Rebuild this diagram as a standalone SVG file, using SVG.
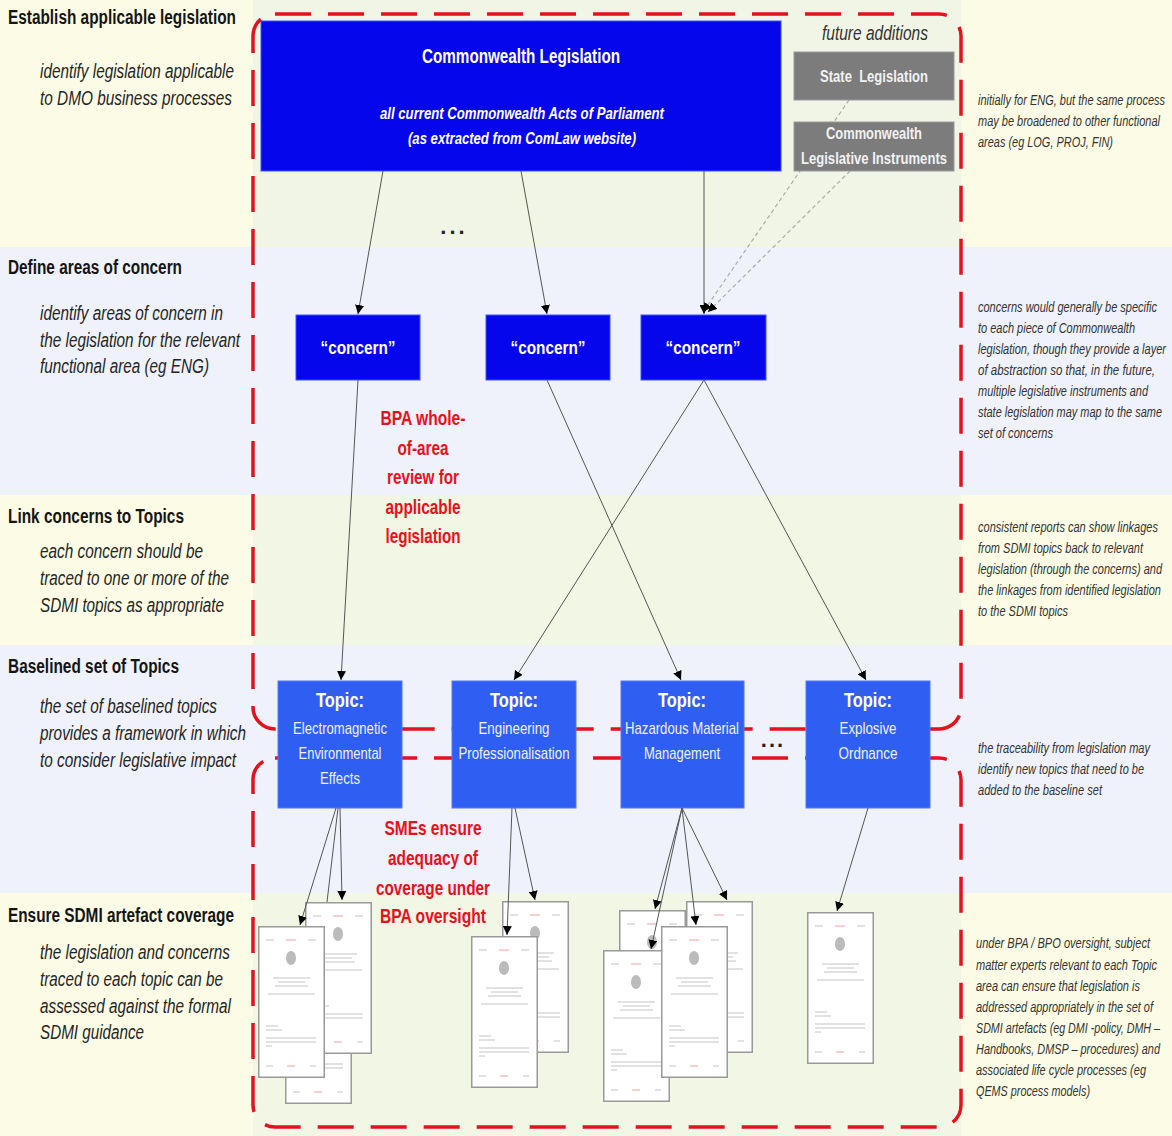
<svg xmlns="http://www.w3.org/2000/svg" xmlns:xlink="http://www.w3.org/1999/xlink" width="1172" height="1136" viewBox="0 0 1172 1136">
<style>
text{font-family:"Liberation Sans Narrow","Liberation Sans",Arial,sans-serif}
.h{font-weight:bold;font-size:20px;fill:#151515}
.li{font-style:italic;font-size:19.5px;fill:#252525}
.ri{font-style:italic;font-size:14px;fill:#333}
.wt{fill:#fff;text-anchor:middle}
.st{fill:#eef1ff;text-anchor:middle}
.red{fill:#e8101a;font-weight:bold;font-size:21px;text-anchor:middle}
.blue{fill:#0606ec;stroke:#3a55ff;stroke-width:1}
.topic{fill:#2f5ff2;stroke:#5577ff;stroke-width:1}
.gray{fill:#7c7c7c;stroke:#9a9a9a;stroke-width:1}
.bound{fill:none;stroke:#e3121c;stroke-width:3.5;stroke-dasharray:36 17}
.con{stroke:#555;stroke-width:1;fill:none}
.dash{stroke:#aaa;stroke-width:1.2;stroke-dasharray:4 3;fill:none}
.doc{fill:#fff;stroke:#999;stroke-width:1.5}
.dl{stroke:#c4c4c4;stroke-width:1}
</style>
<defs>
<marker id="ah" viewBox="0 0 10 10" refX="10" refY="5" markerWidth="9" markerHeight="9" markerUnits="userSpaceOnUse" orient="auto">
<path d="M0,0 L10,5 L0,10 z" fill="#000"/>
</marker>
<symbol id="docsym" viewBox="0 0 67 152" width="67" height="152">
<rect class="doc" x="0.75" y="0.75" width="65.5" height="150.5"/>
<g class="dl">
<line x1="8" y1="14" x2="16" y2="14"/><line x1="28" y1="14" x2="38" y2="14" stroke="#f0a0a0"/><line x1="50" y1="14" x2="58" y2="14"/>
<line x1="15" y1="52" x2="52" y2="52"/><line x1="20" y1="56" x2="47" y2="56"/><line x1="17" y1="60" x2="50" y2="60"/>
<line x1="10" y1="68" x2="57" y2="68"/>
<line x1="8" y1="100" x2="20" y2="100"/><line x1="8" y1="104" x2="24" y2="104"/>
<line x1="8" y1="112" x2="58" y2="112"/><line x1="8" y1="116" x2="58" y2="116"/><line x1="8" y1="120" x2="14" y2="120"/>
<line x1="8" y1="140" x2="15" y2="140"/><line x1="29" y1="140" x2="37" y2="140" stroke="#f0a0a0"/><line x1="52" y1="140" x2="58" y2="140"/>
</g>
<ellipse cx="33" cy="32" rx="5" ry="7" fill="#bbb"/>
</symbol>
</defs>

<g id="background">
<rect x="0" y="0" width="1172" height="247" fill="#fcfce6"/>
<rect x="0" y="247" width="1172" height="248" fill="#eff2fb"/>
<rect x="0" y="495" width="1172" height="150" fill="#fcfce6"/>
<rect x="0" y="645" width="1172" height="248" fill="#eff2fb"/>
<rect x="0" y="893" width="1172" height="243" fill="#fcfce6"/>
<rect x="253" y="0" width="708" height="247" fill="#f1f5e6"/>
<rect x="253" y="495" width="708" height="150" fill="#f2f6e4"/>
<rect x="253" y="893" width="708" height="243" fill="#f2f6e4"/>
</g>

<g id="boundaries">
<rect class="bound" x="253" y="14" width="708" height="715" rx="22"/>
<rect class="bound" x="253" y="758" width="708" height="369" rx="22"/>
</g>

<g id="left-labels">
<text class="h" x="8" y="24" textLength="228" lengthAdjust="spacingAndGlyphs">Establish applicable legislation</text>
<text class="li" x="40" y="78" textLength="194" lengthAdjust="spacingAndGlyphs">identify legislation applicable</text>
<text class="li" x="40" y="105" textLength="192" lengthAdjust="spacingAndGlyphs">to DMO business processes</text>
<text class="h" x="8" y="274" textLength="174" lengthAdjust="spacingAndGlyphs">Define areas of concern</text>
<text class="li" x="40" y="320" textLength="183" lengthAdjust="spacingAndGlyphs">identify areas of concern in</text>
<text class="li" x="40" y="347" textLength="200" lengthAdjust="spacingAndGlyphs">the legislation for the relevant</text>
<text class="li" x="40" y="373" textLength="169" lengthAdjust="spacingAndGlyphs">functional area (eg ENG)</text>
<text class="h" x="8" y="523" textLength="176" lengthAdjust="spacingAndGlyphs">Link concerns to Topics</text>
<text class="li" x="40" y="558" textLength="163" lengthAdjust="spacingAndGlyphs">each concern should be</text>
<text class="li" x="40" y="585" textLength="189" lengthAdjust="spacingAndGlyphs">traced to one or more of the</text>
<text class="li" x="40" y="612" textLength="184" lengthAdjust="spacingAndGlyphs">SDMI topics as appropriate</text>
<text class="h" x="8" y="673" textLength="171" lengthAdjust="spacingAndGlyphs">Baselined set of Topics</text>
<text class="li" x="40" y="713" textLength="177" lengthAdjust="spacingAndGlyphs">the set of baselined topics</text>
<text class="li" x="40" y="740" textLength="206" lengthAdjust="spacingAndGlyphs">provides a framework in which</text>
<text class="li" x="40" y="767" textLength="196" lengthAdjust="spacingAndGlyphs">to consider legislative impact</text>
<text class="h" x="8" y="922" textLength="226" lengthAdjust="spacingAndGlyphs">Ensure SDMI artefact coverage</text>
<text class="li" x="40" y="959" textLength="190" lengthAdjust="spacingAndGlyphs">the legislation and concerns</text>
<text class="li" x="40" y="986" textLength="183" lengthAdjust="spacingAndGlyphs">traced to each topic can be</text>
<text class="li" x="40" y="1013" textLength="191" lengthAdjust="spacingAndGlyphs">assessed against the formal</text>
<text class="li" x="40" y="1039" textLength="104" lengthAdjust="spacingAndGlyphs">SDMI guidance</text>
</g>

<g id="right-notes">
<text class="ri" x="978" y="105" textLength="187" lengthAdjust="spacingAndGlyphs">initially for ENG, but the same process</text>
<text class="ri" x="978" y="126" textLength="182" lengthAdjust="spacingAndGlyphs">may be broadened to other functional</text>
<text class="ri" x="978" y="147" textLength="135" lengthAdjust="spacingAndGlyphs">areas (eg LOG, PROJ, FIN)</text>
<text class="ri" x="978" y="312" textLength="179" lengthAdjust="spacingAndGlyphs">concerns would generally be specific</text>
<text class="ri" x="978" y="333" textLength="157" lengthAdjust="spacingAndGlyphs">to each piece of Commonwealth</text>
<text class="ri" x="978" y="354" textLength="188" lengthAdjust="spacingAndGlyphs">legislation, though they provide a layer</text>
<text class="ri" x="978" y="375" textLength="177" lengthAdjust="spacingAndGlyphs">of abstraction so that, in the future,</text>
<text class="ri" x="978" y="396" textLength="170" lengthAdjust="spacingAndGlyphs">multiple legislative instruments and</text>
<text class="ri" x="978" y="417" textLength="184" lengthAdjust="spacingAndGlyphs">state legislation may map to the same</text>
<text class="ri" x="978" y="438" textLength="75" lengthAdjust="spacingAndGlyphs">set of concerns</text>
<text class="ri" x="978" y="532" textLength="180" lengthAdjust="spacingAndGlyphs">consistent reports can show linkages</text>
<text class="ri" x="978" y="553" textLength="165" lengthAdjust="spacingAndGlyphs">from SDMI topics back to relevant</text>
<text class="ri" x="978" y="574" textLength="184" lengthAdjust="spacingAndGlyphs">legislation (through the concerns) and</text>
<text class="ri" x="978" y="595" textLength="183" lengthAdjust="spacingAndGlyphs">the linkages from identified legislation</text>
<text class="ri" x="978" y="616" textLength="90" lengthAdjust="spacingAndGlyphs">to the SDMI topics</text>
<text class="ri" x="978" y="753" textLength="172" lengthAdjust="spacingAndGlyphs">the traceability from legislation may</text>
<text class="ri" x="978" y="774" textLength="166" lengthAdjust="spacingAndGlyphs">identify new topics that need to be</text>
<text class="ri" x="978" y="795" textLength="124" lengthAdjust="spacingAndGlyphs">added to the baseline set</text>
<text class="ri" x="976" y="948" textLength="174" lengthAdjust="spacingAndGlyphs">under BPA / BPO oversight, subject</text>
<text class="ri" x="976" y="970" textLength="181" lengthAdjust="spacingAndGlyphs">matter experts relevant to each Topic</text>
<text class="ri" x="976" y="991" textLength="164" lengthAdjust="spacingAndGlyphs">area can ensure that legislation is</text>
<text class="ri" x="976" y="1012" textLength="177" lengthAdjust="spacingAndGlyphs">addressed appropriately in the set of</text>
<text class="ri" x="976" y="1033" textLength="184" lengthAdjust="spacingAndGlyphs">SDMI artefacts (eg DMI -policy, DMH –</text>
<text class="ri" x="976" y="1054" textLength="184" lengthAdjust="spacingAndGlyphs">Handbooks, DMSP – procedures) and</text>
<text class="ri" x="976" y="1075" textLength="170" lengthAdjust="spacingAndGlyphs">associated life cycle processes (eg</text>
<text class="ri" x="976" y="1096" textLength="114" lengthAdjust="spacingAndGlyphs">QEMS process models)</text>
</g>

<g id="connectors">
<line class="con" x1="383" y1="171" x2="358" y2="314" marker-end="url(#ah)"/>
<line class="con" x1="521" y1="171" x2="547" y2="314" marker-end="url(#ah)"/>
<line class="con" x1="704" y1="171" x2="704" y2="314" marker-end="url(#ah)"/>
<line class="dash" x1="849" y1="100" x2="703" y2="312" marker-end="url(#ah)"/>
<line class="dash" x1="850" y1="171" x2="708" y2="312" marker-end="url(#ah)"/>
<line class="con" x1="358" y1="380" x2="341" y2="680" marker-end="url(#ah)"/>
<line class="con" x1="547" y1="380" x2="681" y2="680" marker-end="url(#ah)"/>
<line class="con" x1="704" y1="380" x2="514" y2="680" marker-end="url(#ah)"/>
<line class="con" x1="704" y1="380" x2="866" y2="680" marker-end="url(#ah)"/>
</g>

<g id="node-commonwealth">
<rect class="blue" x="261" y="21" width="520" height="150"/>
<text class="wt" x="521" y="63" font-size="21" font-weight="bold" textLength="198" lengthAdjust="spacingAndGlyphs">Commonwealth Legislation</text>
<text class="wt" x="522" y="119" font-size="17" font-weight="bold" font-style="italic" textLength="284" lengthAdjust="spacingAndGlyphs">all current Commonwealth Acts of Parliament</text>
<text class="wt" x="522" y="144" font-size="17" font-weight="bold" font-style="italic" textLength="228" lengthAdjust="spacingAndGlyphs">(as extracted from ComLaw website)</text>
</g>

<g id="label-future">
<text x="875" y="40" font-size="20" font-style="italic" fill="#333" text-anchor="middle" textLength="106" lengthAdjust="spacingAndGlyphs">future additions</text>
</g>
<g id="node-state">
<rect class="gray" x="794" y="52" width="160" height="48"/>
<text x="874" y="82" font-size="17" font-weight="bold" fill="#f2f2f2" text-anchor="middle" textLength="108" lengthAdjust="spacingAndGlyphs" xml:space="preserve">State  Legislation</text>
</g>
<g id="node-cli">
<rect class="gray" x="794" y="122" width="160" height="49"/>
<text x="874" y="139" font-size="17" font-weight="bold" fill="#f2f2f2" text-anchor="middle" textLength="96" lengthAdjust="spacingAndGlyphs">Commonwealth</text>
<text x="874" y="164" font-size="17" font-weight="bold" fill="#f2f2f2" text-anchor="middle" textLength="146" lengthAdjust="spacingAndGlyphs">Legislative Instruments</text>
</g>

<g id="ellipsis-1"><text x="454" y="234" font-size="22" font-weight="bold" fill="#222" text-anchor="middle" letter-spacing="3">...</text></g>

<g id="node-concern-1">
<rect class="blue" x="296" y="315" width="124" height="65"/>
<text class="wt" x="358" y="354" font-size="19" font-weight="bold" textLength="75" lengthAdjust="spacingAndGlyphs">“concern”</text>
</g>
<g id="node-concern-2">
<rect class="blue" x="486" y="315" width="124" height="65"/>
<text class="wt" x="548" y="354" font-size="19" font-weight="bold" textLength="75" lengthAdjust="spacingAndGlyphs">“concern”</text>
</g>
<g id="node-concern-3">
<rect class="blue" x="641" y="315" width="125" height="65"/>
<text class="wt" x="703" y="354" font-size="19" font-weight="bold" textLength="75" lengthAdjust="spacingAndGlyphs">“concern”</text>
</g>

<g id="label-bpa-review">
<text class="red" x="423" y="425" textLength="85" lengthAdjust="spacingAndGlyphs">BPA whole-</text>
<text class="red" x="423" y="455" textLength="51" lengthAdjust="spacingAndGlyphs">of-area</text>
<text class="red" x="423" y="484" textLength="72" lengthAdjust="spacingAndGlyphs">review for</text>
<text class="red" x="423" y="514" textLength="75" lengthAdjust="spacingAndGlyphs">applicable</text>
<text class="red" x="423" y="543" textLength="75" lengthAdjust="spacingAndGlyphs">legislation</text>
</g>

<g id="node-topic-em">
<rect class="topic" x="278" y="681" width="124" height="127"/>
<text class="wt" x="340" y="707" font-size="20" font-weight="bold" textLength="48" lengthAdjust="spacingAndGlyphs">Topic:</text>
<text class="st" x="340" y="734" font-size="17" textLength="94" lengthAdjust="spacingAndGlyphs">Electromagnetic</text>
<text class="st" x="340" y="759" font-size="17" textLength="83" lengthAdjust="spacingAndGlyphs">Environmental</text>
<text class="st" x="340" y="784" font-size="17" textLength="40" lengthAdjust="spacingAndGlyphs">Effects</text>
</g>
<g id="node-topic-eng">
<rect class="topic" x="452" y="681" width="124" height="127"/>
<text class="wt" x="514" y="707" font-size="20" font-weight="bold" textLength="48" lengthAdjust="spacingAndGlyphs">Topic:</text>
<text class="st" x="514" y="734" font-size="17" textLength="71" lengthAdjust="spacingAndGlyphs">Engineering</text>
<text class="st" x="514" y="759" font-size="17" textLength="111" lengthAdjust="spacingAndGlyphs">Professionalisation</text>
</g>
<g id="node-topic-haz">
<rect class="topic" x="621" y="681" width="123" height="127"/>
<text class="wt" x="682" y="707" font-size="20" font-weight="bold" textLength="48" lengthAdjust="spacingAndGlyphs">Topic:</text>
<text class="st" x="682" y="734" font-size="17" textLength="114" lengthAdjust="spacingAndGlyphs">Hazardous Material</text>
<text class="st" x="682" y="759" font-size="17" textLength="76" lengthAdjust="spacingAndGlyphs">Management</text>
</g>
<g id="ellipsis-2"><text x="773" y="747" font-size="22" font-weight="bold" fill="#222" text-anchor="middle" letter-spacing="2">...</text></g>
<g id="node-topic-exp">
<rect class="topic" x="806" y="681" width="124" height="127"/>
<text class="wt" x="868" y="707" font-size="20" font-weight="bold" textLength="48" lengthAdjust="spacingAndGlyphs">Topic:</text>
<text class="st" x="868" y="734" font-size="17" textLength="57" lengthAdjust="spacingAndGlyphs">Explosive</text>
<text class="st" x="868" y="759" font-size="17" textLength="59" lengthAdjust="spacingAndGlyphs">Ordnance</text>
</g>

<g id="label-smes">
<text class="red" x="433" y="835" textLength="97" lengthAdjust="spacingAndGlyphs">SMEs ensure</text>
<text class="red" x="433" y="865" textLength="90" lengthAdjust="spacingAndGlyphs">adequacy of</text>
<text class="red" x="433" y="895" textLength="114" lengthAdjust="spacingAndGlyphs">coverage under</text>
<text class="red" x="433" y="923" textLength="106" lengthAdjust="spacingAndGlyphs">BPA oversight</text>
</g>

<g id="docs-em">
<use xlink:href="#docsym" x="285" y="952"/>
<use xlink:href="#docsym" x="305" y="902"/>
<use xlink:href="#docsym" x="258" y="926"/>
</g>
<g id="docs-eng">
<use xlink:href="#docsym" x="502" y="901"/>
<use xlink:href="#docsym" x="471" y="936"/>
</g>
<g id="docs-haz">
<use xlink:href="#docsym" x="619" y="910"/>
<use xlink:href="#docsym" x="686" y="901"/>
<use xlink:href="#docsym" x="603" y="950"/>
<use xlink:href="#docsym" x="661" y="926"/>
</g>
<g id="docs-exp">
<use xlink:href="#docsym" x="807" y="912"/>
</g>

<g id="doc-connectors">
<line class="con" x1="336" y1="808" x2="300" y2="925" marker-end="url(#ah)"/>
<line class="con" x1="338" y1="808" x2="327" y2="902"/>
<line class="con" x1="340" y1="808" x2="342" y2="900" marker-end="url(#ah)"/>
<line class="con" x1="512" y1="808" x2="507" y2="935" marker-end="url(#ah)"/>
<line class="con" x1="515" y1="808" x2="535" y2="900" marker-end="url(#ah)"/>
<line class="con" x1="682" y1="808" x2="655" y2="909" marker-end="url(#ah)"/>
<line class="con" x1="682" y1="808" x2="651" y2="949" marker-end="url(#ah)"/>
<line class="con" x1="682" y1="808" x2="696" y2="925" marker-end="url(#ah)"/>
<line class="con" x1="682" y1="808" x2="727" y2="900" marker-end="url(#ah)"/>
<line class="con" x1="868" y1="808" x2="837" y2="911" marker-end="url(#ah)"/>
</g>
</svg>
